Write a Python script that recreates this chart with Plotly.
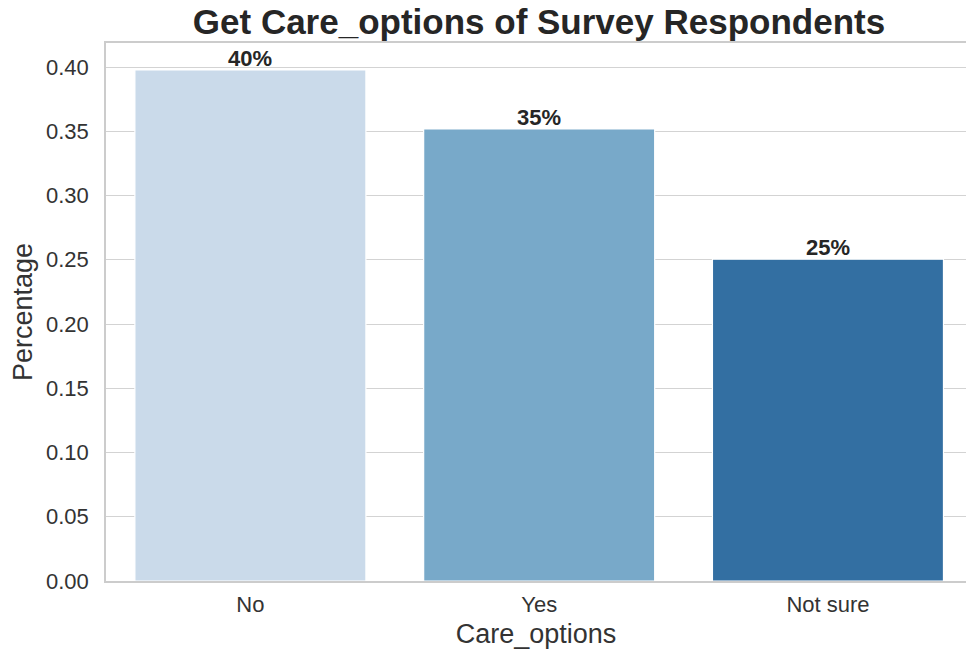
import plotly.graph_objects as go

# Share of survey respondents by answer to "care options"
categories = ["No", "Yes", "Not sure"]
shares = [0.3977, 0.3518, 0.2505]
bar_colors = ["#cadaea", "#78a9c9", "#336fa2"]
y_ticks = [0.0, 0.05, 0.10, 0.15, 0.20, 0.25, 0.30, 0.35, 0.40]

labels = [f"{v * 100:.0f}%" for v in shares]

font_family = "Liberation Sans, Arial, sans-serif"

fig = go.Figure(
    go.Bar(
        x=list(range(len(categories))),
        y=shares,
        width=0.8,
        marker=dict(color=bar_colors, line=dict(color="white", width=1.2)),
        hoverinfo="skip",
    )
)

# percentage labels sitting just above each bar
for i, (v, t) in enumerate(zip(shares, labels)):
    fig.add_annotation(
        x=i,
        y=v,
        text=f"<b>{t}</b>",
        showarrow=False,
        xanchor="center",
        yanchor="bottom",
        yshift=-3,
        font=dict(family=font_family, size=22, color="#262626"),
    )

fig.update_layout(
    width=966,
    height=655,
    margin=dict(l=106, r=0, t=43, b=74),
    paper_bgcolor="white",
    plot_bgcolor="white",
    showlegend=False,
    title=dict(
        text="<b>Get Care_options of Survey Respondents</b>",
        font=dict(family=font_family, size=35, color="#262626"),
        x=539 / 966,
        xanchor="center",
        y=1 - 22 / 655,
        yanchor="middle",
    ),
    xaxis=dict(
        range=[-0.5, 2.478],
        tickmode="array",
        tickvals=list(range(len(categories))),
        ticktext=categories,
        tickfont=dict(family=font_family, size=22, color="#333333"),
        ticklabelstandoff=3,
        showgrid=False,
        zeroline=False,
        showline=True,
        linecolor="#cccccc",
        linewidth=1.5,
        mirror=True,
        title=dict(text="Care_options", font=dict(family=font_family, size=27, color="#333333"), standoff=8),
    ),
    yaxis=dict(
        range=[0, 0.4187],
        tickmode="array",
        tickvals=y_ticks,
        ticktext=[f"{v:.2f}" for v in y_ticks],
        tickfont=dict(family=font_family, size=22, color="#333333"),
        ticklabelstandoff=11,
        showgrid=True,
        gridcolor="#d3d3d3",
        gridwidth=1.3,
        zeroline=False,
        showline=True,
        linecolor="#cccccc",
        linewidth=1.5,
        mirror=False,
        title=dict(text="Percentage", font=dict(family=font_family, size=27, color="#333333"), standoff=6),
    ),
)

fig.write_html("out.html")
